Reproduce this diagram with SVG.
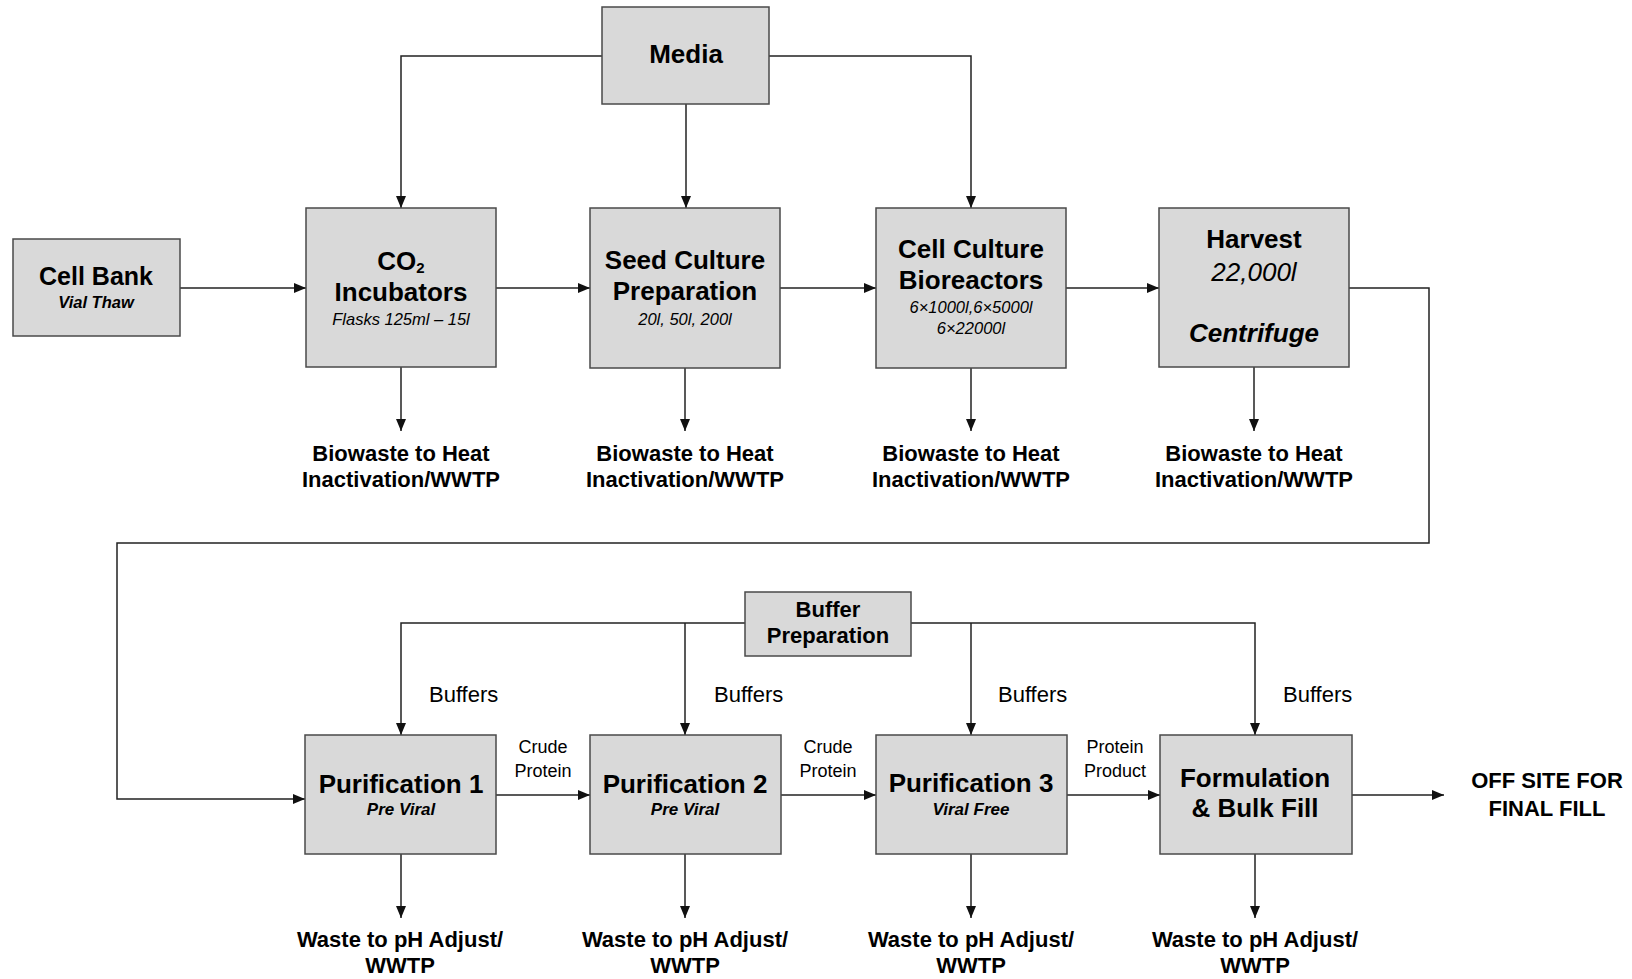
<svg xmlns="http://www.w3.org/2000/svg" width="1632" height="979" viewBox="0 0 1632 979">
  <defs>
    <marker id="arrow" markerUnits="userSpaceOnUse" markerWidth="12" markerHeight="10" refX="12" refY="5" orient="auto">
      <path d="M0,0 L12,5 L0,10 z" fill="#111"/>
    </marker>
    <style>
      .box { fill: #d9d9d9; stroke: #4a4a4a; stroke-width: 1.5; }
      .flow { fill: none; stroke: #222; stroke-width: 1.5; marker-end: url(#arrow); }
      text { font-family: "Liberation Sans", Arial, sans-serif; fill: #000; text-anchor: middle; }
      .title { font-size: 26px; font-weight: bold; }
      .sub { font-size: 16.5px; font-style: italic; }
      .subb { font-size: 17px; font-style: italic; font-weight: bold; }
      .waste { font-size: 22px; font-weight: bold; }
      .buf { font-size: 22px; text-anchor: start; }
      .lbl { font-size: 18px; }
    </style>
  </defs>
  <rect width="1632" height="979" fill="#fff"/>

  <!-- connectors -->
  <g id="connectors">
    <!-- media distribution -->
    <polyline class="flow" points="602,56 401,56 401,208"/>
    <polyline class="flow" points="686,104 686,208"/>
    <polyline class="flow" points="769,56 971,56 971,208"/>
    <!-- upstream flow -->
    <line class="flow" x1="180" y1="288" x2="306" y2="288"/>
    <line class="flow" x1="496" y1="288" x2="590" y2="288"/>
    <line class="flow" x1="780" y1="288" x2="876" y2="288"/>
    <line class="flow" x1="1066" y1="288" x2="1159" y2="288"/>
    <!-- biowaste outlets -->
    <line class="flow" x1="401" y1="367" x2="401" y2="431"/>
    <line class="flow" x1="685" y1="368" x2="685" y2="431"/>
    <line class="flow" x1="971" y1="368" x2="971" y2="431"/>
    <line class="flow" x1="1254" y1="367" x2="1254" y2="431"/>
    <!-- harvest to purification loop -->
    <polyline class="flow" points="1349,288 1429,288 1429,543 117,543 117,799 305,799"/>
    <!-- buffer distribution -->
    <polyline class="flow" points="745,623 401,623 401,735"/>
    <line class="flow" x1="685" y1="623" x2="685" y2="735"/>
    <polyline class="flow" points="911,623 1255,623 1255,735"/>
    <line class="flow" x1="971" y1="623" x2="971" y2="735"/>
    <!-- downstream flow -->
    <line class="flow" x1="496" y1="795" x2="590" y2="795"/>
    <line class="flow" x1="781" y1="795" x2="876" y2="795"/>
    <line class="flow" x1="1067" y1="795" x2="1160" y2="795"/>
    <line class="flow" x1="1352" y1="795" x2="1444" y2="795"/>
    <!-- waste outlets -->
    <line class="flow" x1="401" y1="854" x2="401" y2="918"/>
    <line class="flow" x1="685" y1="854" x2="685" y2="918"/>
    <line class="flow" x1="971" y1="854" x2="971" y2="918"/>
    <line class="flow" x1="1255" y1="854" x2="1255" y2="918"/>

    <!-- connector labels -->
    <text class="buf" x="429" y="702">Buffers</text>
    <text class="buf" x="714" y="702">Buffers</text>
    <text class="buf" x="998" y="702">Buffers</text>
    <text class="buf" x="1283" y="702">Buffers</text>
    <text class="lbl" x="543" y="753">Crude</text>
    <text class="lbl" x="543" y="777">Protein</text>
    <text class="lbl" x="828" y="753">Crude</text>
    <text class="lbl" x="828" y="777">Protein</text>
    <text class="lbl" x="1115" y="753">Protein</text>
    <text class="lbl" x="1115" y="777">Product</text>
  </g>

  <!-- upstream nodes -->
  <g id="media">
    <rect class="box" x="602" y="7" width="167" height="97"/>
    <text class="title" x="686" y="63">Media</text>
  </g>
  <g id="cell-bank">
    <rect class="box" x="13" y="239" width="167" height="97"/>
    <text class="title" x="96" y="285" style="font-size:25px">Cell Bank</text>
    <text class="subb" x="96" y="308" style="font-size:16.5px">Vial Thaw</text>
  </g>
  <g id="co2-incubators">
    <rect class="box" x="306" y="208" width="190" height="159"/>
    <text class="title" x="401" y="270">CO<tspan font-size="15" dy="3">2</tspan></text>
    <text class="title" x="401" y="301">Incubators</text>
    <text class="sub" x="401" y="325">Flasks 125ml – 15l</text>
  </g>
  <g id="seed-culture">
    <rect class="box" x="590" y="208" width="190" height="160"/>
    <text class="title" x="685" y="269">Seed Culture</text>
    <text class="title" x="685" y="300">Preparation</text>
    <text class="sub" x="685" y="325">20l, 50l, 200l</text>
  </g>
  <g id="cell-culture">
    <rect class="box" x="876" y="208" width="190" height="160"/>
    <text class="title" x="971" y="258">Cell Culture</text>
    <text class="title" x="971" y="289">Bioreactors</text>
    <text class="sub" x="971" y="313">6×1000l,6×5000l</text>
    <text class="sub" x="971" y="334">6×22000l</text>
  </g>
  <g id="harvest">
    <rect class="box" x="1159" y="208" width="190" height="159"/>
    <text class="title" x="1254" y="248">Harvest</text>
    <text x="1254" y="281" style="font-size:26px;font-style:italic">22,000l</text>
    <text class="title" x="1254" y="342" style="font-style:italic">Centrifuge</text>
  </g>

  <!-- biowaste destinations -->
  <g id="biowaste-1">
    <text class="waste" x="401" y="461">Biowaste to Heat</text>
    <text class="waste" x="401" y="487">Inactivation/WWTP</text>
  </g>
  <g id="biowaste-2">
    <text class="waste" x="685" y="461">Biowaste to Heat</text>
    <text class="waste" x="685" y="487">Inactivation/WWTP</text>
  </g>
  <g id="biowaste-3">
    <text class="waste" x="971" y="461">Biowaste to Heat</text>
    <text class="waste" x="971" y="487">Inactivation/WWTP</text>
  </g>
  <g id="biowaste-4">
    <text class="waste" x="1254" y="461">Biowaste to Heat</text>
    <text class="waste" x="1254" y="487">Inactivation/WWTP</text>
  </g>

  <!-- downstream nodes -->
  <g id="buffer-prep">
    <rect class="box" x="745" y="592" width="166" height="64"/>
    <text class="waste" x="828" y="617">Buffer</text>
    <text class="waste" x="828" y="643">Preparation</text>
  </g>
  <g id="purification-1">
    <rect class="box" x="305" y="735" width="191" height="119"/>
    <text class="title" x="401" y="793">Purification 1</text>
    <text class="subb" x="401" y="815">Pre Viral</text>
  </g>
  <g id="purification-2">
    <rect class="box" x="590" y="735" width="191" height="119"/>
    <text class="title" x="685" y="793">Purification 2</text>
    <text class="subb" x="685" y="815">Pre Viral</text>
  </g>
  <g id="purification-3">
    <rect class="box" x="876" y="735" width="191" height="119"/>
    <text class="title" x="971" y="792">Purification 3</text>
    <text class="subb" x="971" y="815">Viral Free</text>
  </g>
  <g id="formulation">
    <rect class="box" x="1160" y="735" width="192" height="119"/>
    <text class="title" x="1255" y="787">Formulation</text>
    <text class="title" x="1255" y="817">&amp; Bulk Fill</text>
  </g>
  <g id="off-site">
    <text class="waste" x="1547" y="788">OFF SITE FOR</text>
    <text class="waste" x="1547" y="816">FINAL FILL</text>
  </g>

  <!-- waste destinations -->
  <g id="waste-1">
    <text class="waste" x="400" y="947">Waste to pH Adjust/</text>
    <text class="waste" x="400" y="973">WWTP</text>
  </g>
  <g id="waste-2">
    <text class="waste" x="685" y="947">Waste to pH Adjust/</text>
    <text class="waste" x="685" y="973">WWTP</text>
  </g>
  <g id="waste-3">
    <text class="waste" x="971" y="947">Waste to pH Adjust/</text>
    <text class="waste" x="971" y="973">WWTP</text>
  </g>
  <g id="waste-4">
    <text class="waste" x="1255" y="947">Waste to pH Adjust/</text>
    <text class="waste" x="1255" y="973">WWTP</text>
  </g>
</svg>
